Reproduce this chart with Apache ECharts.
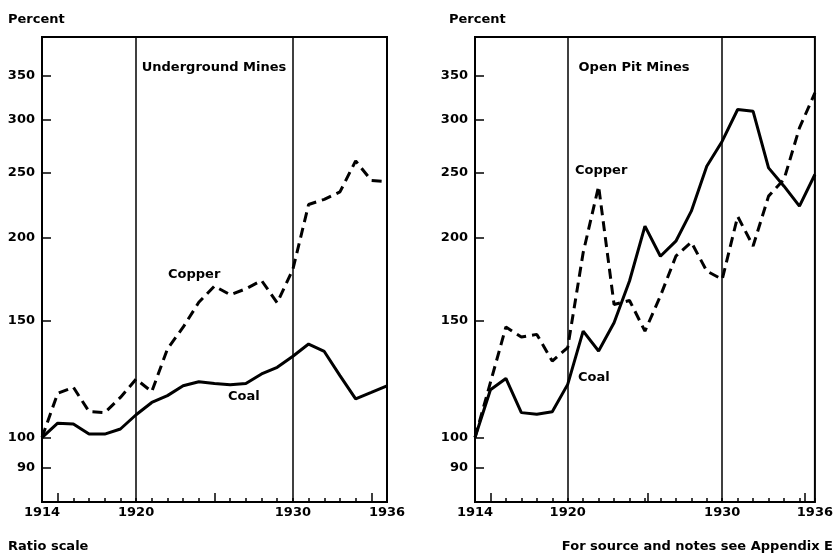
<!DOCTYPE html>
<html>
<head>
<meta charset="utf-8">
<script src="https://cdn.jsdelivr.net/npm/echarts@6/dist/echarts.min.js"></script>
<style>
html,body{margin:0;padding:0;background:#fff;}
#chart{width:836px;height:559px;}
</style>
</head>
<body>
<div id="chart"></div>
<script>
// ---- data ----
var years = [1914,1915,1916,1917,1918,1919,1920,1921,1922,1923,1924,1925,1926,1927,1928,1929,1930,1931,1932,1933,1934,1935,1936];
var ugCopper = [100,116.5,119,109.4,109,114.9,122.4,117.2,135.9,146.5,159.7,168.9,163.9,167.3,172.2,159.4,179,224,228,234,260.5,243.5,242.5];
var ugCoal   = [100,105.1,104.8,101.2,101.2,103,108.2,112.9,115.6,119.6,121.3,120.6,120,120.6,124.6,127.5,132.5,138.2,134.7,123.9,114.3,116.9,119.6];
var opCopper = [100,121,146.6,141.6,142.9,130.3,136.5,189.6,238.7,158.5,160.7,144.5,163.2,187.3,196.6,177.9,172.9,215,194,230.6,244.3,292,329.6];
var opCoal   = [100,118,122.7,109,108.4,109.3,120.2,144.5,134.9,148.8,171.9,207.9,187.3,197.3,218.9,255.8,278.9,311.2,309.3,254.3,238.7,222.7,248.5];
var yTicks = [90,100,150,200,250,300,350];
var xLabels = [1914,1920,1930,1936];
var xLongTicks = [1915,1925,1935];
var dividers = [1920,1930];
var panelTitles = ['Underground Mines','Open Pit Mines'];

function pairs(vals){ return years.map(function(y,i){ return [y, vals[i]]; }); }

var FONT = 'DejaVu Sans';
var FS = 13;
var grids = [], xAxes = [], yAxes = [], series = [];
var panels = [
  {left:42, copper:ugCopper, coal:ugCoal},
  {left:475, copper:opCopper, coal:opCoal}
];
panels.forEach(function(p, k){
  var gi = grids.length;
  grids.push({left:p.left, top:37, width:345, height:465, show:true, borderColor:'#000', borderWidth:2, backgroundColor:'transparent'});
  grids.push({left:p.left, top:37, width:345, height:465, show:false});
  xAxes.push({type:'value', gridIndex:gi, min:1914, max:1936, position:'bottom',
    axisLine:{show:false}, splitLine:{show:false},
    axisTick:{show:true, inside:true, length:4, customValues:years, lineStyle:{color:'#000', width:1.5}},
    axisLabel:{show:true, customValues:xLabels, margin:4, color:'#000', fontFamily:FONT, fontWeight:'bold', fontSize:FS, formatter:function(v){return String(v);}}
  });
  xAxes.push({type:'value', gridIndex:gi+1, min:1914, max:1936, position:'bottom',
    axisLine:{show:false}, splitLine:{show:false},
    axisTick:{show:true, inside:true, length:9, customValues:xLongTicks, lineStyle:{color:'#000', width:1.5}},
    axisLabel:{show:false}
  });
  yAxes.push({type:'log', logBase:10, gridIndex:gi, min:80, max:400,
    axisLine:{show:false}, splitLine:{show:false}, minorTick:{show:false},
    axisTick:{show:true, inside:true, length:9, customValues:yTicks, lineStyle:{color:'#000', width:1.5}},
    axisLabel:{show:true, customValues:yTicks, margin:7, color:'#000', fontFamily:FONT, fontWeight:'bold', fontSize:FS, formatter:function(v){return String(Math.round(v));}}
  });
  yAxes.push({type:'log', logBase:10, gridIndex:gi+1, min:80, max:400, show:false});
  var xi = xAxes.length - 2, yi = yAxes.length - 2;
  series.push({type:'line', xAxisIndex:xi, yAxisIndex:yi, data:pairs(p.copper), symbol:'none', smooth:false,
    lineStyle:{color:'#000', width:3, type:[10,6]}, z:3});
  series.push({type:'line', xAxisIndex:xi, yAxisIndex:yi, data:pairs(p.coal), symbol:'none', smooth:false,
    lineStyle:{color:'#000', width:3, type:'solid'}, z:3,
    markLine:{silent:true, symbol:['none','none'], label:{show:false},
      lineStyle:{color:'#000', width:1.5, type:'solid'},
      data:dividers.map(function(d){return {xAxis:d};})}});
});

function txt(x, y, s, align){
  return {type:'text', x:x, y:y, style:{text:s, fill:'#000', font:'bold ' + FS + 'px "DejaVu Sans"', textAlign:align||'left', textVerticalAlign:'middle'}};
}

var option = {
  animation:false,
  backgroundColor:'#fff',
  grid:grids, xAxis:xAxes, yAxis:yAxes, series:series,
  graphic:[
    txt(8, 20, 'Percent'),
    txt(449, 20, 'Percent'),
    txt(214, 68, panelTitles[0], 'center'),
    txt(634, 68, panelTitles[1], 'center'),
    txt(168, 275, 'Copper'),
    txt(228, 397, 'Coal'),
    txt(575, 171, 'Copper'),
    txt(578, 378, 'Coal'),
    txt(8, 547, 'Ratio scale'),
    txt(833, 547, 'For source and notes see Appendix E', 'right')
  ]
};
var chart = echarts.init(document.getElementById('chart'), null, {renderer:'canvas'});
chart.setOption(option);
</script>
</body>
</html>
